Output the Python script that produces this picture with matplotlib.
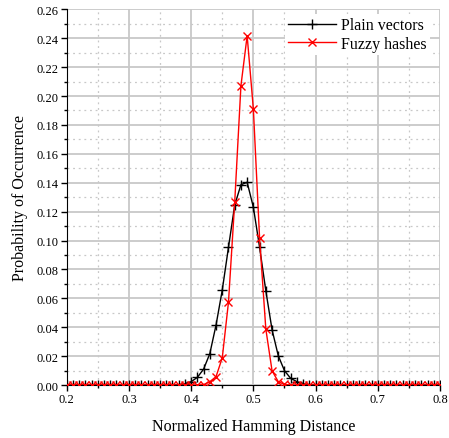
import numpy as np
import matplotlib
matplotlib.use("Agg")
import matplotlib.pyplot as plt
from matplotlib.ticker import MultipleLocator, FormatStrFormatter

plt.rcParams['font.family'] = ['Liberation Serif', 'DejaVu Serif']

# Hamming distance bins (0.20 .. 0.80, step 0.01)
distance = np.arange(20, 81) / 100.0

# Plain vectors: values (0.20 .. 0.80)
plain = [0.0] * 18 + [
    0.0002, 0.0008, 0.0023, 0.0053, 0.0110, 0.0217, 0.0415, 0.0657,   # 0.38 - 0.45
    0.0953, 0.1245, 0.1386, 0.1403, 0.1230, 0.0953, 0.0653, 0.0383,   # 0.46 - 0.53
    0.0203, 0.0099, 0.0046, 0.0023, 0.0008, 0.0002,                   # 0.54 - 0.59
] + [0.0] * 21

# Fuzzy hashes
fuzzy = [0.0] * 22 + [
    0.0003, 0.0023, 0.0058, 0.0188, 0.0574, 0.1264, 0.2071, 0.2417,   # 0.42 - 0.49
    0.1910, 0.1015, 0.0388, 0.0099, 0.0023, 0.0004,                   # 0.50 - 0.55
] + [0.0] * 25

fig = plt.figure(figsize=(4.49, 4.39), dpi=100)
ax = fig.add_axes([0.1486, 0.1207, 0.8314, 0.8558])

ax.plot(distance, plain, color='black', lw=1.0, marker='+', ms=7, mew=1.0,
        label='Plain vectors', zorder=3)
ax.plot(distance, fuzzy, color='#ff0000', lw=1.0, marker='x', ms=6, mew=1.0,
        label='Fuzzy hashes', zorder=4)

ax.set_xlim(0.2, 0.8)
ax.set_ylim(0.0, 0.26)
ax.xaxis.set_major_locator(MultipleLocator(0.1))
ax.xaxis.set_minor_locator(MultipleLocator(0.05))
ax.yaxis.set_major_locator(MultipleLocator(0.02))
ax.yaxis.set_minor_locator(MultipleLocator(0.01))
ax.xaxis.set_major_formatter(FormatStrFormatter('%.1f'))
ax.yaxis.set_major_formatter(FormatStrFormatter('%.2f'))

ax.grid(which='major', color='#c8c8c8', lw=1.3, ls='-', zorder=0)
ax.grid(which='minor', color='#c8c8c8', lw=0.9, ls=(0, (1.5, 3)), zorder=0)
ax.set_axisbelow(True)

ax.spines['top'].set_visible(False)
ax.spines['right'].set_visible(False)
ax.tick_params(which='major', direction='out', length=4, width=1, labelsize=9, pad=2)
ax.tick_params(which='minor', direction='out', length=2.5, width=1)

ax.set_xlabel('Normalized Hamming Distance', fontsize=11.5, labelpad=9)
ax.set_ylabel('Probability of Occurrence', fontsize=11.5, labelpad=6)

leg = ax.legend(loc='upper right', bbox_to_anchor=(0.985, 1.0), fontsize=11.5,
                frameon=True, handlelength=3.0, borderaxespad=0.3,
                handletextpad=0.3, labelspacing=0.15, borderpad=0.2,
                fancybox=False)
leg.get_frame().set_edgecolor('none')
leg.get_frame().set_facecolor('white')
leg.get_frame().set_alpha(1.0)

fig.savefig('out.png', dpi=100)
